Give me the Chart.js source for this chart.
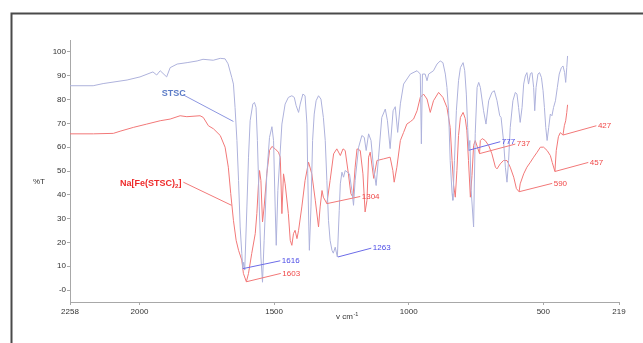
<!DOCTYPE html>
<html><head><meta charset="utf-8">
<script src="https://cdn.jsdelivr.net/npm/chart.js@4.4.0/dist/chart.umd.min.js"></script>
<style>html,body{margin:0;padding:0;background:#fff;overflow:hidden}canvas{display:block}</style>
</head><body>
<canvas id="c" width="643" height="343"></canvas>
<script>
// ---- Data (wavenumber in cm-1, %T) ----
const xTickVals = [2258, 2000, 1500, 1000, 500, 219];
const yTickVals = [0, 10, 20, 30, 40, 50, 60, 70, 80, 90, 100];

const stscWn = [
 2258,2172,2135,2046,1998,1950,1936,1923,1899,1886,
 1860,1823,1786,1764,1726,1700,1682,1671,1657,1651,
 1645,1638,1632,1626,1620,1616,1613,1609,1601,1595,
 1589,1579,1573,1567,1562,1555,1549,1543,1537,1527,
 1517,1508,1502,1496,1492,1486,1471,1459,1447,1434,
 1425,1418,1409,1403,1393,1385,1378,1375,1371,1369,
 1363,1357,1351,1344,1335,1326,1317,1310,1304,1298,
 1292,1285,1280,1273,1265,1258,1254,1248,1242,1236,
 1220,1211,1205,1199,1186,1174,1165,1158,1149,1140,
 1131,1121,1112,1100,1087,1079,1069,1058,1050,1041,
 1031,1019,994,969,957,953,949,939,932,926,
 908,895,883,873,864,858,852,846,839,836,
 830,823,815,808,798,792,786,781,777,773,
 768,759,753,746,740,734,722,713,703,691,
 682,672,662,657,648,641,635,629,623,613,
 604,598,592,586,579,573,567,561,555,548,
 542,536,532,527,520,514,507,501,496,491,
 486,480,474,468,462,455,448,441,433,427,
 421,417,413,410];
const stscT = [
 85.8,85.8,86.7,88.2,89.5,91.6,90.3,92.1,89.5,93.4,
 94.9,95.5,96.2,96.9,96.5,97.3,97.1,95.0,89.2,86.5,
 76.7,62.8,46.0,26.5,15.4,9.0,11.7,8.4,34.9,55.8,
 71.1,78.1,78.8,76.7,62.8,34.9,13.9,3.3,20.9,48.8,
 64.1,68.6,62.8,34.9,18.8,41.8,69.7,78.1,80.9,81.6,
 80.9,77.4,74.6,78.1,82.3,81.6,69.7,48.8,26.5,16.7,
 34.9,62.8,73.9,79.5,81.6,80.2,72.5,62.8,46.0,29.3,
 20.9,16.7,15.5,18.0,13.9,33.5,44.6,49.5,47.4,50.2,
 48.8,41.8,35.6,46.0,60.0,64.9,64.1,58.6,65.6,62.8,
 51.6,43.9,55.8,72.5,76.0,71.1,59.4,75.3,77.0,66.2,
 78.2,86.5,90.7,92.1,90.7,61.4,90.7,90.7,87.9,90.7,
 92.1,94.9,96.2,95.5,90.7,85.1,75.3,54.4,40.5,37.7,
 54.4,75.3,87.9,93.4,95.5,92.1,82.3,68.3,58.7,62.8,
 41.8,26.5,65.7,85.1,87.2,85.1,75.3,69.7,79.5,83.0,
 83.7,79.5,73.2,72.5,62.8,51.6,45.3,54.4,68.3,79.5,
 83.0,82.3,76.7,70.4,76.7,86.5,89.9,91.3,86.5,90.9,
 91.3,85.1,75.3,85.1,90.7,91.3,89.2,83.7,76.7,68.3,
 62.8,68.3,73.9,73.2,76.7,79.5,85.1,90.7,93.4,94.1,
 91.3,87.2,93.4,98.3];

const naWn = [
 2258,2171,2097,2072,2023,1973,1923,1886,1849,1824,
 1775,1763,1744,1725,1700,1682,1670,1661,1651,1641,
 1632,1620,1614,1603,1595,1583,1570,1564,1558,1554,
 1549,1543,1537,1527,1517,1508,1496,1484,1477,1471,
 1465,1459,1447,1440,1434,1428,1422,1415,1409,1397,
 1385,1372,1360,1347,1335,1329,1322,1317,1304,1292,
 1279,1267,1254,1244,1236,1224,1215,1207,1199,1192,
 1180,1170,1162,1155,1149,1143,1130,1118,1093,
 1069,1059,1054,1044,1031,1019,1007,994,982,969,
 957,945,932,920,908,889,873,858,846,839,
 833,827,821,815,808,798,790,784,778,771,
 765,759,753,737,734,727,716,703,691,678,
 672,660,648,635,623,610,600,590,586,573,
 561,548,536,523,511,499,486,474,467,457,
 452,444,437,427,422,417,413,410];
const naT = [
 65.6,65.6,65.8,66.7,68.3,69.7,71.1,71.8,73.2,72.8,
 73.2,72.5,69.0,67.7,64.9,60.0,51.6,40.5,29.3,20.9,
 16.7,12.6,7.0,3.5,7.0,15.4,23.7,32.1,44.6,50.2,
 46.0,28.6,34.9,48.8,58.6,60.3,59.3,57.9,55.8,32.1,
 48.8,44.6,32.1,20.9,18.8,23.7,25.1,21.6,25.1,34.9,
 46.0,53.7,48.8,37.7,26.5,34.9,41.8,39.0,36.3,46.0,
 57.2,59.3,56.5,59.3,58.6,48.8,40.5,39.0,51.6,59.3,
 58.6,48.8,32.8,37.7,55.8,57.9,46.9,54.4,55.1,
 55.8,50.2,45.3,51.6,62.8,66.2,69.7,70.7,71.8,75.3,
 80.9,82.3,80.2,74.6,79.5,83.0,80.9,76.7,68.3,54.4,
 43.9,39.0,50.2,64.9,72.5,74.6,72.0,66.9,54.4,39.0,
 48.1,60.7,62.8,57.3,62.8,63.6,62.8,60.7,57.2,51.6,
 50.9,53.0,54.4,54.4,51.6,47.4,42.6,41.3,44.6,48.8,
 51.6,53.7,55.8,57.9,60.0,60.0,58.6,56.5,53.6,49.8,
 58.6,64.4,66.1,65.1,69.0,71.1,74.5,77.8];

// Peak annotations
const peakLabels = ['1616','1603','1263','1304','777','737','590','457','427'];
const peakWn     = [1616, 1603, 1263, 1304, 777, 737, 590, 457, 427];
const peakT      = [9.0, 3.5, 13.9, 36.3, 58.7, 57.3, 41.3, 49.8, 65.1];
const peakSeries = [0, 1, 0, 1, 0, 1, 1, 1, 1];
// Where each peak label sits (data units)
const labelLayout = {
  wn: [1477, 1475, 1139, 1180, 660, 604, 467, 333, 303],
  t:  [12.3, 7.0, 17.6, 39.3, 62.3, 61.3, 44.8, 53.6, 69.0]
};
// Series name callouts: [text anchor, leader start, leader end] in data units
const seriesCallouts = [
  {text:'STSC', sub:'', tail:'', color:'#5b7bc6', line:'#8c96e0',
   at:[1917, 82.6], from:[1838, 82.0], to:[1651, 70.8]},
  {text:'Na[Fe(STSC)', sub:'2', tail:']', color:'#ee2a2a', line:'#f27a7a',
   at:[2072, 44.8], from:[1837, 45.3], to:[1658, 35.6]}
];

const FONT = '"Liberation Sans", Arial, sans-serif';
const seriesColors = ['#aeb2dc', '#f27878'];
const labelColors = ['#4a4ae6', '#f04848'];
const leaderColors = ['#6c6ce8', '#f27878'];

const annot = {
  id: 'annot',
  afterDatasetsDraw(chart) {
    const c = chart.ctx, xs = chart.scales.x, ys = chart.scales.y;
    const X = v => xs.getPixelForValue(v), Y = v => ys.getPixelForValue(v);
    c.save();
    c.lineWidth = 1;
    // peak callouts
    c.font = '8px ' + FONT;
    c.textBaseline = 'middle';
    c.textAlign = 'left';
    for (let i = 0; i < peakLabels.length; i++) {
      const s = peakSeries[i];
      const x0 = X(peakWn[i]), y0 = Y(peakT[i]);
      const x1 = X(labelLayout.wn[i]), y1 = Y(labelLayout.t[i]);
      c.strokeStyle = leaderColors[s];
      c.beginPath(); c.moveTo(x0, y0); c.lineTo(x1, y1); c.stroke();
      c.fillStyle = labelColors[s];
      c.fillText(peakLabels[i], x1 + 1.5, y1);
    }
    // series callouts
    for (const sc of seriesCallouts) {
      c.strokeStyle = sc.line;
      c.beginPath(); c.moveTo(X(sc.from[0]), Y(sc.from[1])); c.lineTo(X(sc.to[0]), Y(sc.to[1])); c.stroke();
      let x = X(sc.at[0]); const y = Y(sc.at[1]);
      c.fillStyle = sc.color;
      c.font = 'bold 9px ' + FONT;
      c.fillText(sc.text, x, y);
      x += c.measureText(sc.text).width;
      if (sc.sub) {
        c.font = 'bold 6px ' + FONT;
        c.fillText(sc.sub, x, y + 2.5);
        x += c.measureText(sc.sub).width;
        c.font = 'bold 9px ' + FONT;
        c.fillText(sc.tail, x, y);
      }
    }
    c.restore();
  },
  afterDraw(chart) {
    const c = chart.ctx;
    c.save();
    // axis titles
    c.fillStyle = '#333';
    c.textBaseline = 'middle';
    c.font = '8px ' + FONT;
    c.textAlign = 'center';
    c.fillText('%T', 39, 182);
    c.textAlign = 'left';
    const t1 = 'v cm';
    const w1 = c.measureText(t1).width;
    c.font = '5.5px ' + FONT;
    const w2 = c.measureText('-1').width;
    const sx = 347 - (w1 + w2) / 2;
    c.font = '8px ' + FONT;
    c.fillText(t1, sx, 317);
    c.font = '5.5px ' + FONT;
    c.fillText('-1', sx + w1 + 0.5, 314);
    // outer frame
    c.strokeStyle = '#4a4a4a';
    c.lineWidth = 2;
    c.beginPath();
    c.moveTo(11.5, 343); c.lineTo(11.5, 13.5); c.lineTo(643, 13.5);
    c.stroke();
    c.restore();
  }
};

new Chart(document.getElementById('c'), {
  type: 'line',
  data: {
    datasets: [
      {label: 'STSC', data: stscWn.map((w, i) => ({x: w, y: stscT[i]})),
       borderColor: seriesColors[0], borderWidth: 1, pointRadius: 0, tension: 0, fill: false},
      {label: 'Na[Fe(STSC)2]', data: naWn.map((w, i) => ({x: w, y: naT[i]})),
       borderColor: seriesColors[1], borderWidth: 1, pointRadius: 0, tension: 0, fill: false}
    ]
  },
  options: {
    responsive: false, animation: false, devicePixelRatio: 1,
    layout: {padding: {left: 0, right: 24, top: 40, bottom: 0}},
    plugins: {legend: {display: false}, tooltip: {enabled: false}},
    scales: {
      x: {
        type: 'linear', reverse: true, min: 219, max: 2258,
        afterBuildTicks: s => { s.ticks = xTickVals.map(v => ({value: v})); },
        afterFit: s => { s.height = 41; },
        grid: {drawOnChartArea: false, drawTicks: true, tickLength: 3, color: '#a8a8a8'},
        border: {color: '#a8a8a8', width: 1},
        ticks: {autoSkip: false, maxRotation: 0, minRotation: 0, padding: 2,
                font: {family: FONT, size: 8}, color: '#333', callback: v => String(v)}
      },
      y: {
        type: 'linear', min: -5, max: 105,
        afterBuildTicks: s => { s.ticks = yTickVals.map(v => ({value: v})); },
        afterFit: s => { s.width = 70; },
        grid: {drawOnChartArea: false, drawTicks: true, tickLength: 3, color: '#a8a8a8'},
        border: {color: '#a8a8a8', width: 1},
        ticks: {padding: 1, font: {family: FONT, size: 8}, color: '#333',
                callback: v => (v === 0 ? '-0' : String(v))}
      }
    }
  },
  plugins: [annot]
});
</script>
</body></html>
